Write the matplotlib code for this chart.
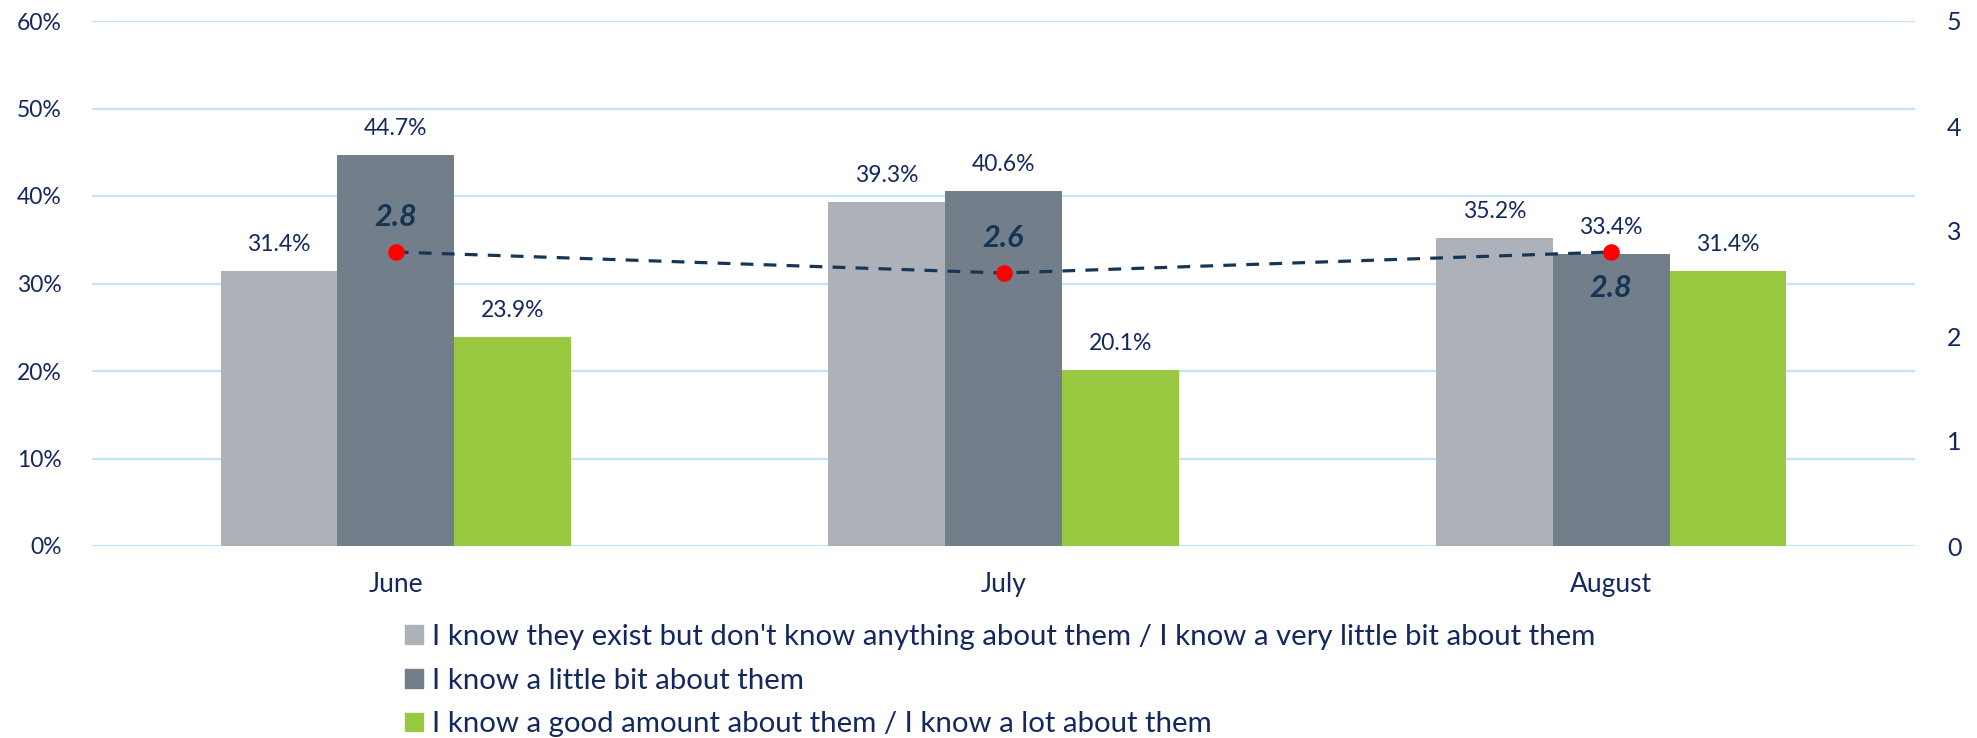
import numpy as np
import matplotlib.pyplot as plt
from matplotlib.patches import Patch

plt.rcParams['font.family'] = ['Lato', 'DejaVu Sans']

months = ["June", "July", "August"]
series_names = [
    "I know they exist but don't know anything about them / I know a very little bit about them",
    "I know a little bit about them",
    "I know a good amount about them / I know a lot about them",
]
little_or_none = [31.4, 39.3, 35.2]
little_bit = [44.7, 40.6, 33.4]
good_amount = [23.9, 20.1, 31.4]
avg_score = [2.8, 2.6, 2.8]

navy = "#14285f"
colors = ["#adb1b9", "#727f8a", "#99c941"]
grid_c = "#c4e3f8"

fig = plt.figure(figsize=(19.77, 7.38), dpi=100, facecolor='w')
ax = fig.add_axes([92 / 1977, 1 - 546 / 738, 1823 / 1977, 525 / 738])

x = np.arange(len(months))
w = 0.192
for i, vals in enumerate([little_or_none, little_bit, good_amount]):
    ax.bar(x + (i - 1) * w, vals, w, color=colors[i], zorder=3, label=series_names[i])
    for xi, v in zip(x + (i - 1) * w, vals):
        ax.annotate(f"{v:.1f}%", (xi, v), xytext=(0, 19), textcoords="offset points",
                    ha="center", va="center", fontsize=16.5, color=navy, zorder=5)

ax.set_xlim(-0.5, 2.5)
ax.set_ylim(0, 60)
ax.set_yticks(np.arange(0, 61, 10))
ax.set_yticklabels([f"{t}%" for t in range(0, 61, 10)])
ax.set_xticks(x)
ax.set_xticklabels(months)
ax.grid(axis="y", color=grid_c, linewidth=1.6, zorder=0)
for s in ax.spines.values():
    s.set_visible(False)
ax.tick_params(axis="y", length=0, labelsize=16.5, labelcolor=navy, pad=22)
ax.tick_params(axis="x", length=0, labelsize=19, labelcolor=navy, pad=19)

# average score on the secondary axis
ax2 = ax.twinx()
ax2.set_ylim(0, 5)
ax2.set_yticks(range(0, 6))
for s in ax2.spines.values():
    s.set_visible(False)
ax2.tick_params(axis="y", length=0, labelsize=18, labelcolor=navy, pad=23)
ax2.plot(x, avg_score, linestyle=(0, (4, 3.2)), color="#163656", linewidth=2.3, zorder=4)
ax2.scatter(x, avg_score, s=120, color="#ff0000", zorder=6)
offsets = [25, 25, -26]
for xi, v, off in zip(x, avg_score, offsets):
    ax2.annotate(f"{v:.1f}", (xi, v), xytext=(0, off), textcoords="offset points",
                 ha="center", va="center", fontsize=22, fontweight="bold",
                 fontstyle="italic", color="#143554", zorder=7)

handles = [Patch(color=c) for c in colors]
fig.legend(handles, series_names, loc="upper left", bbox_to_anchor=(405 / 1977, 1 - 624 / 738),
           frameon=False, fontsize=21.2, labelcolor=navy, handlelength=0.61, handleheight=0.61,
           handletextpad=0.31, labelspacing=0.6, borderpad=0, borderaxespad=0)

fig.savefig("out.png", dpi=100, facecolor='w')
